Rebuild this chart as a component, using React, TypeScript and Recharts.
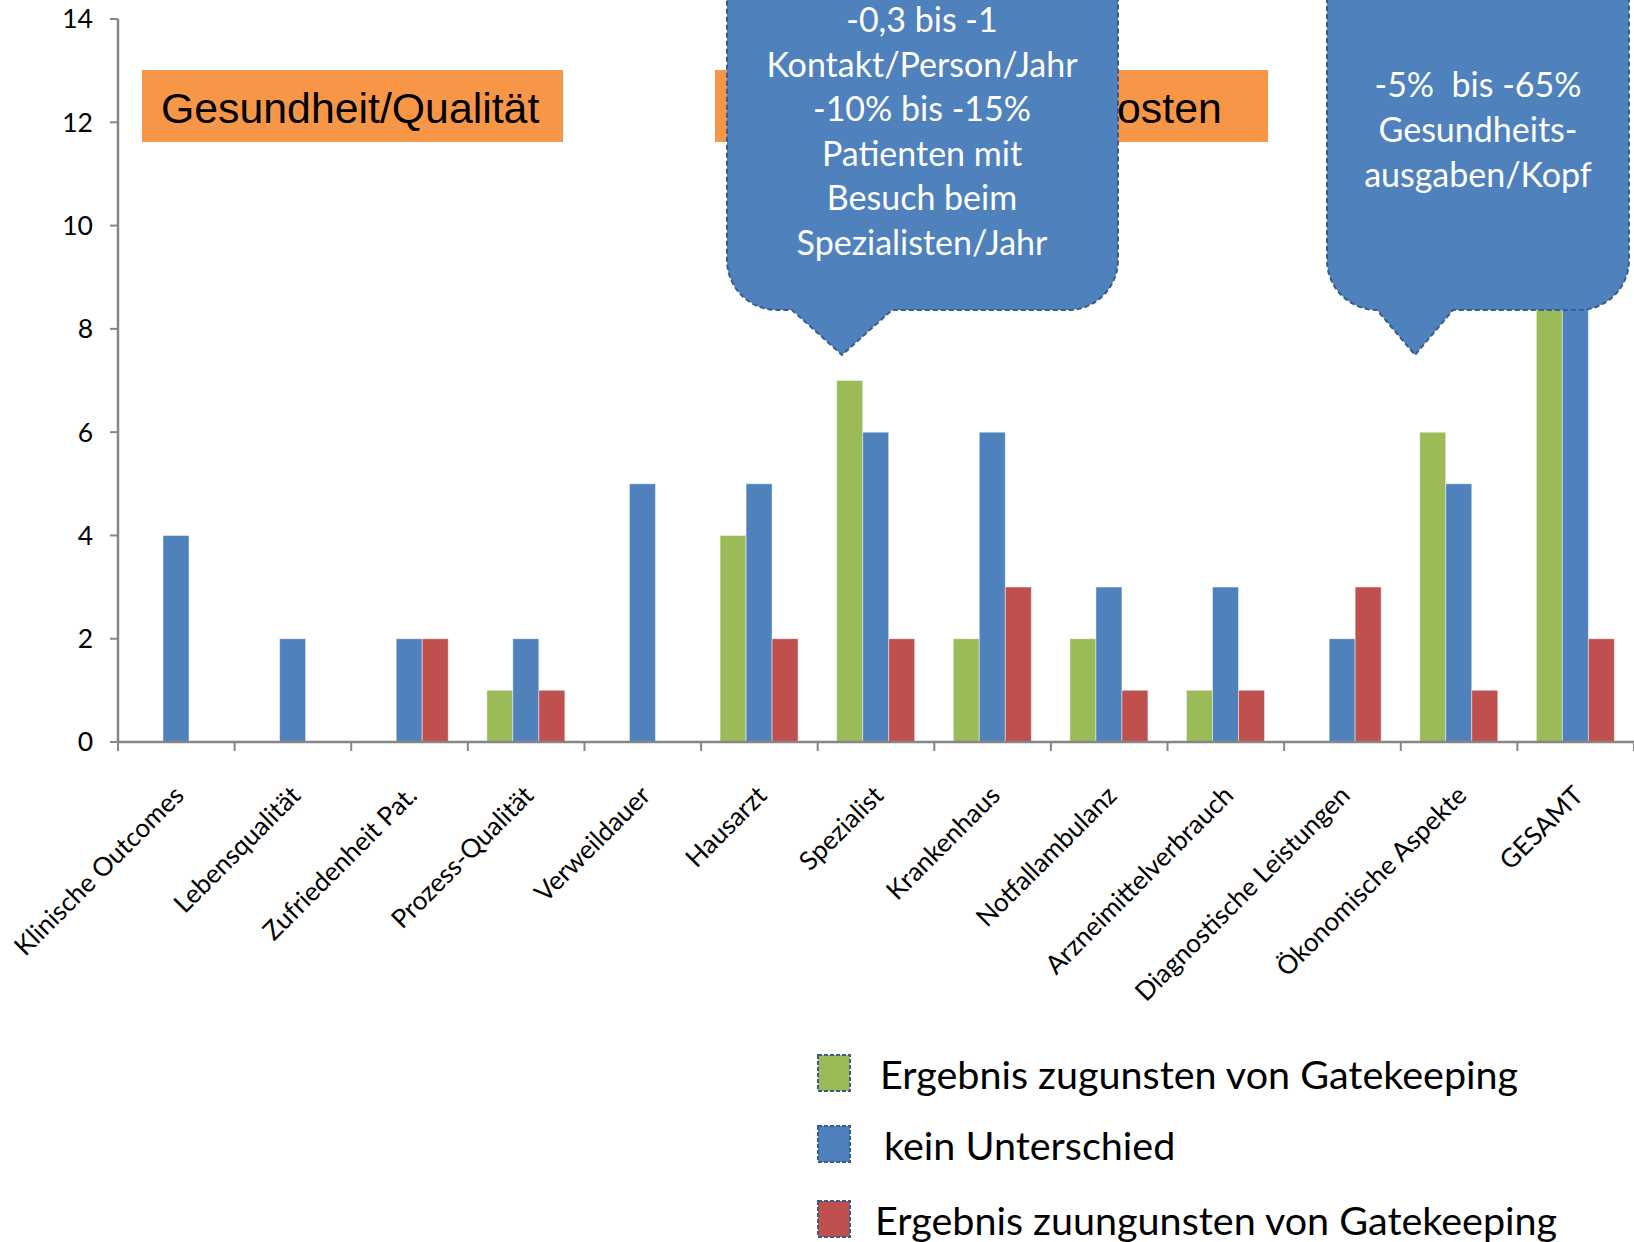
import React from "react";
import { BarChart, Bar, XAxis, YAxis } from "recharts";

const categories = [
  "Klinische Outcomes",
  "Lebensqualität",
  "Zufriedenheit Pat.",
  "Prozess-Qualität",
  "Verweildauer",
  "Hausarzt",
  "Spezialist",
  "Krankenhaus",
  "Notfallambulanz",
  "Arzneimittelverbrauch",
  "Diagnostische Leistungen",
  "Ökonomische Aspekte",
  "GESAMT",
];

// Anzahl Studien je Ergebnis
const zugunsten = [0, 0, 0, 1, 0, 4, 7, 2, 2, 1, 0, 6, 10];
const keinUnterschied = [4, 2, 2, 2, 5, 5, 6, 6, 3, 3, 2, 5, 9];
const zuungunsten = [0, 0, 2, 1, 0, 2, 2, 3, 1, 1, 3, 1, 2];

const yTicks = [0, 2, 4, 6, 8, 10, 12, 14];

const series = [
  { key: "zugunsten", name: "Ergebnis zugunsten von Gatekeeping", color: "#9BBB59" },
  { key: "kein", name: "kein Unterschied", color: "#4F81BD" },
  { key: "zuungunsten", name: "Ergebnis zuungunsten von Gatekeeping", color: "#C0504D" },
];

const callout1 = [
  "-0,3 bis -1",
  "Kontakt/Person/Jahr",
  "-10% bis -15%",
  "Patienten mit",
  "Besuch beim",
  "Spezialisten/Jahr",
];
const callout2 = ["-5%  bis -65%", "Gesundheits-", "ausgaben/Kopf"];

const W = 1634;
const H = 1242;
const LEFT = 118;
const TOP = 19;
const AXIS_Y = 742;
const BAND = (W - LEFT) / categories.length;
const FONT = "Lato, 'Open Sans', sans-serif";
const AXIS = "#868686";
const CALLOUT_FILL = "#4F81BD";
const CALLOUT_STROKE = "#385D8A";

const data = categories.map((name, i) => ({
  name,
  zugunsten: zugunsten[i] || null,
  kein: keinUnterschied[i] || null,
  zuungunsten: zuungunsten[i] || null,
}));

const XTick = ({ x, y, payload, index }: any) => {
  const half = BAND / 2;
  const ax = x + 2;
  const ay = y + 39;
  return (
    <g>
      <line x1={x - half} x2={x - half} y1={y - 9} y2={y} stroke={AXIS} strokeWidth={2} />
      {index === categories.length - 1 && (
        <line x1={x + half} x2={x + half} y1={y - 9} y2={y} stroke={AXIS} strokeWidth={2} />
      )}
      <text
        x={ax}
        y={ay}
        transform={`rotate(-45, ${ax}, ${ay})`}
        textAnchor="end"
        dominantBaseline="central"
        fontFamily={FONT}
        fontSize={26}
        fill="#000"
      >
        {payload.value}
      </text>
    </g>
  );
};

function calloutPath(x1: number, x2: number, top: number, bottom: number, r: number, b1: number, b2: number, tx: number, ty: number) {
  return [
    `M ${x1 + r} ${top}`,
    `L ${x2 - r} ${top}`,
    `A ${r} ${r} 0 0 1 ${x2} ${top + r}`,
    `L ${x2} ${bottom - r}`,
    `A ${r} ${r} 0 0 1 ${x2 - r} ${bottom}`,
    `L ${b2} ${bottom}`,
    `L ${tx} ${ty}`,
    `L ${b1} ${bottom}`,
    `L ${x1 + r} ${bottom}`,
    `A ${r} ${r} 0 0 1 ${x1} ${bottom - r}`,
    `L ${x1} ${top + r}`,
    `A ${r} ${r} 0 0 1 ${x1 + r} ${top}`,
    "Z",
  ].join(" ");
}

export default function App() {
  return (
    <div style={{ position: "absolute", left: 0, top: 0, width: W, height: H, background: "#fff" }}>
      <BarChart
        width={W}
        height={H}
        data={data}
        margin={{ top: TOP, right: 0, left: 0, bottom: 0 }}
        barGap={0}
        barSize={26}
      >
        <XAxis
          dataKey="name"
          height={H - AXIS_Y}
          interval={0}
          tickLine={false}
          tickSize={9}
          tickMargin={0}
          tick={<XTick />}
          axisLine={{ stroke: AXIS, strokeWidth: 2.5 }}
        />
        <YAxis
          width={LEFT}
          domain={[0, 14]}
          ticks={yTicks}
          interval={0}
          tickSize={8}
          tickMargin={17}
          axisLine={{ stroke: AXIS, strokeWidth: 2.5 }}
          tickLine={{ stroke: AXIS, strokeWidth: 2 }}
          tick={{ fontSize: 26.5, fill: "#000", fontFamily: FONT }}
        />
        {series.map((s) => (
          <Bar
            key={s.key}
            dataKey={s.key}
            name={s.name}
            fill={s.color}
            stroke="rgba(255,255,255,0.45)"
            strokeWidth={1}
            isAnimationActive={false}
          />
        ))}
      </BarChart>

      <svg
        width={W}
        height={H}
        style={{ position: "absolute", left: 0, top: 0, pointerEvents: "none" }}
      >
        {/* Bereichs-Überschriften */}
        <rect x={142} y={70} width={421} height={72} fill="#F79646" />
        <text x={161} y={123} fontFamily="'Liberation Sans', Arial, sans-serif" fontSize={42.8} fill="#000">
          Gesundheit/Qualität
        </text>
        <rect x={715} y={70} width={553} height={72} fill="#F79646" />
        <text x={734} y={123} fontFamily="'Liberation Sans', Arial, sans-serif" fontSize={42.8} fill="#000">
          Inanspruchnahme/Kosten
        </text>

        {/* Sprechblasen */}
        <path
          d={calloutPath(727, 1118, -60, 310, 50, 792, 892, 842, 355)}
          fill={CALLOUT_FILL}
          stroke={CALLOUT_STROKE}
          strokeWidth={2}
          strokeDasharray="5 3"
        />
        {callout1.map((t, i) => (
          <text
            key={i}
            x={922}
            y={32 + i * 44.5}
            textAnchor="middle"
            fontFamily={FONT}
            fontSize={34}
            fill="#fff"
          >
            {t}
          </text>
        ))}
        <path
          d={calloutPath(1327, 1629, -60, 310, 50, 1377, 1453, 1415, 355)}
          fill={CALLOUT_FILL}
          stroke={CALLOUT_STROKE}
          strokeWidth={2}
          strokeDasharray="5 3"
        />
        {callout2.map((t, i) => (
          <text
            key={i}
            x={1478}
            y={97 + i * 45}
            textAnchor="middle"
            fontFamily={FONT}
            fontSize={34}
            fill="#fff"
            style={{ whiteSpace: "pre" }}
          >
            {t}
          </text>
        ))}

        {/* Legende */}
        {series.map((s, i) => {
          const cy = [1073, 1144, 1219][i];
          const tx = [880, 884, 875][i];
          return (
            <g key={s.key}>
              <rect
                x={818}
                y={cy - 18}
                width={32}
                height={36}
                fill={s.color}
                stroke={CALLOUT_STROKE}
                strokeWidth={2}
                strokeDasharray="4 2"
              />
              <text
                x={tx}
                y={cy}
                dominantBaseline="central"
                fontFamily={FONT}
                fontSize={39.5}
                fill="#000"
              >
                {s.name}
              </text>
            </g>
          );
        })}
      </svg>
    </div>
  );
}
